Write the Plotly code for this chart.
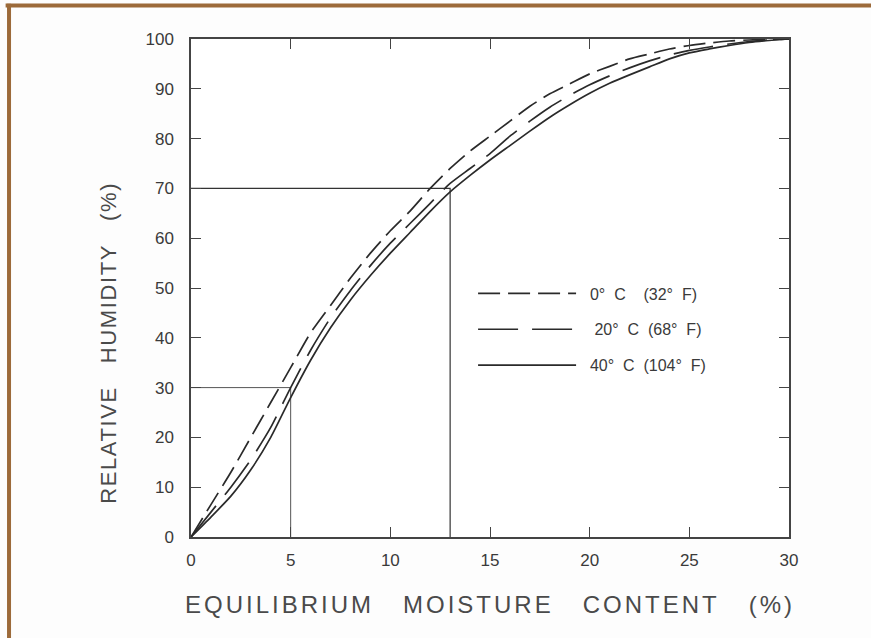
import plotly.graph_objects as go

# ---- data ----
emc = list(range(0, 31))
rh_0c = [0, 6.5, 13, 20, 27, 34, 41, 46.5, 52, 57, 61.5, 65.5, 70, 74, 77.5, 80.5,
         83.5, 86.5, 89, 91, 93, 94.5, 96, 97, 98, 98.7, 99.2, 99.6, 99.8, 99.95, 100]
rh_20c = [0, 5, 10, 15.5, 22, 30, 37.5, 44, 49.5, 54.5, 59, 63, 67, 71, 74, 77,
          80.5, 83.5, 86.3, 88.7, 90.8, 92.6, 94.2, 95.6, 96.8, 97.7, 98.4, 99, 99.5, 99.8, 100]
rh_40c = [0, 4, 8.2, 13.5, 20, 28, 35.5, 42, 47.6, 52.5, 57, 61.2, 65.4, 69.3, 72.6, 75.7,
          78.6, 81.5, 84.3, 86.8, 89.1, 91.1, 92.8, 94.4, 96, 97.2, 98, 98.7, 99.3, 99.7, 100]
series_names = ["\u00a0\u00a00°\u00a0\u00a0C\u00a0\u00a0\u00a0\u00a0(32°\u00a0\u00a0F)",
                "\u00a0\u00a0\u00a020°\u00a0\u00a0C\u00a0\u00a0(68°\u00a0\u00a0F)",
                "\u00a0\u00a040°\u00a0\u00a0C\u00a0\u00a0(104°\u00a0\u00a0F)"]

guide70_x = [0, 13, 13]
guide70_y = [70, 70, 0]
guide30_x = [0, 5, 5]
guide30_y = [30, 30, 0]

x_ticks = [0, 5, 10, 15, 20, 25, 30]
y_ticks = [0, 10, 20, 30, 40, 50, 60, 70, 80, 90, 100]

x_title = "EQUILIBRIUM\u00a0\u00a0\u00a0MOISTURE\u00a0\u00a0\u00a0CONTENT\u00a0\u00a0\u00a0(%)"
y_title = "RELATIVE\u00a0\u00a0\u00a0HUMIDITY\u00a0\u00a0\u00a0(%)"

INK = "#2a2a2a"
TXT = "#3a3a3a"
TITLE = "#4a4a4a"
BROWN = "#9c6a3a"
FONT = "Liberation Sans, Arial, sans-serif"

fig = go.Figure()

fig.add_trace(go.Scatter(x=guide70_x, y=guide70_y, mode="lines",
                         line=dict(color="#333333", width=1.2), showlegend=False, hoverinfo="skip"))
fig.add_trace(go.Scatter(x=guide30_x, y=guide30_y, mode="lines",
                         line=dict(color="#555555", width=1.0), showlegend=False, hoverinfo="skip"))

styles = [dict(dash="22px,8px"), dict(dash="40px,14px"), dict(dash="solid")]
for name, ys, st in zip(series_names, [rh_0c, rh_20c, rh_40c], styles):
    fig.add_trace(go.Scatter(x=emc, y=ys, mode="lines", name=name,
                             line=dict(color=INK, width=1.7, shape="spline", smoothing=0.6, **st),
                             legendgroup=name))

axis_common = dict(
    showgrid=False, zeroline=False, showline=True, linecolor="#444444", linewidth=1.5,
    mirror="ticks", ticks="inside", ticklen=10, tickwidth=1.2, tickcolor="#444444",
    tickfont=dict(family=FONT, size=17, color=TXT),
)

fig.update_xaxes(range=[0, 30], tickvals=x_ticks, ticklabelstandoff=7, **axis_common)
fig.update_yaxes(range=[0, 100], tickvals=y_ticks, ticklabelstandoff=12, **axis_common)

fig.update_layout(
    width=871, height=638,
    margin=dict(l=191, r=82, t=39, b=101),
    paper_bgcolor="#fdfdfd", plot_bgcolor="white",
    font=dict(family=FONT, color=TXT),
    legend=dict(x=0.4717, y=0.523, xanchor="left", yanchor="top",
                bgcolor="rgba(0,0,0,0)", itemwidth=98, tracegroupgap=12,
                font=dict(size=16, color=TXT)),
    annotations=[
        dict(text='<span style="letter-spacing:3px">' + x_title + '</span>',
             xref="paper", yref="paper", x=0.5, y=-0.135, xanchor="center", yanchor="middle",
             showarrow=False, font=dict(size=24, color=TITLE)),
        dict(text='<span style="letter-spacing:1.6px">' + y_title + '</span>',
             xref="paper", yref="paper", x=-0.137, y=0.39, xanchor="center", yanchor="middle",
             textangle=-90, showarrow=False, font=dict(size=22, color=TITLE)),
    ],
    shapes=[
        dict(type="line", xref="paper", yref="paper", x0=-0.31, x1=1.2, y0=1.0673, y1=1.0673,
             line=dict(color=BROWN, width=4)),
        dict(type="line", xref="paper", yref="paper", x0=-0.3043, x1=-0.3043, y0=1.071, y1=-0.3,
             line=dict(color=BROWN, width=4)),
    ],
)

fig.write_html("out.html", config={"displayModeBar": False},
               post_script="document.body.style.margin='0';document.body.style.overflow='hidden';")
